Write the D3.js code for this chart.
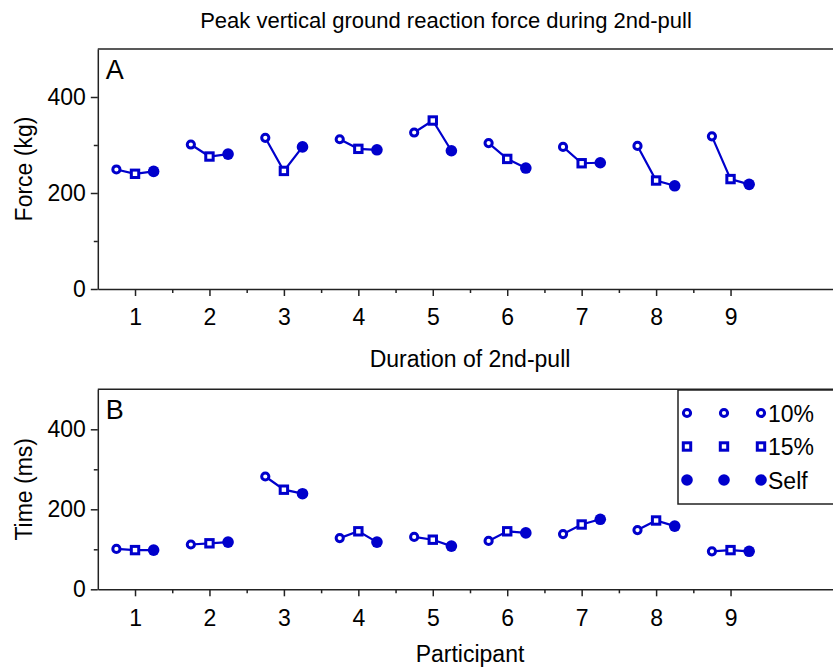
<!DOCTYPE html>
<html>
<head>
<meta charset="utf-8">
<script src="https://cdn.jsdelivr.net/npm/d3@7"></script>
<style>
  body { margin: 0; background: #fff; }
  text { font-family: "Liberation Sans", Arial, sans-serif; fill: #000; }
  .axis path, .axis line { stroke: #222; stroke-width: 1.5; }
  .axis text { font-size: 23px; }
</style>
</head>
<body>
<script>
const participants = [1, 2, 3, 4, 5, 6, 7, 8, 9];
const conditions = ["10%", "15%", "Self"];

// peak force (kg) per participant
const forceTen     = [249, 301, 315, 312, 326, 304, 296, 298, 318];
const forceFifteen = [240, 276, 246, 292, 351, 271, 262, 226, 229];
const forceSelf    = [245, 281, 296, 290, 288, 252, 263, 215, 218];

// 2nd-pull duration (ms) per participant
const timeTen     = [101, 112, 282, 128, 131, 121, 138, 148, 95];
const timeFifteen = [98, 115, 249, 145, 124, 145, 162, 172, 98];
const timeSelf    = [98, 118, 239, 118, 108, 141, 175, 158, 95];

const yMajor = [0, 200, 400];
const yMinor = [100, 300];
const xMinor = [1.5, 2.5, 3.5, 4.5, 5.5, 6.5, 7.5, 8.5];

const width = 833, height = 671;
const blue = "#0000cc";

const svg = d3.select("body").append("svg")
  .attr("width", width)
  .attr("height", height);

const xScale = d3.scaleLinear()
  .domain([0.5, 10.5])
  .range([97.8, 842.2]);

// small shift so the three conditions sit side by side
const shift = d3.scalePoint().domain(conditions).range([-0.25, 0.25]);

svg.append("text")
  .attr("x", 446)
  .attr("y", 28)
  .attr("text-anchor", "middle")
  .style("font-size", "22px")
  .text("Peak vertical ground reaction force during 2nd-pull");

const drawMarker = (g, x, y, cond) => {
  if (cond === "10%") {
    g.append("circle").attr("cx", x).attr("cy", y).attr("r", 3.6)
      .attr("fill", "#fff").attr("stroke", blue).attr("stroke-width", 3);
  } else if (cond === "15%") {
    g.append("rect").attr("x", x - 3.7).attr("y", y - 3.7)
      .attr("width", 7.4).attr("height", 7.4)
      .attr("fill", "#fff").attr("stroke", blue).attr("stroke-width", 3);
  } else {
    g.append("circle").attr("cx", x).attr("cy", y).attr("r", 5.8)
      .attr("fill", blue);
  }
};

const drawPanel = (series, top, bottom, letter, yLabel, xLabel, xLabelY) => {
  const yScale = d3.scaleLinear()
    .domain([0, 500])
    .range([bottom, top]);

  const g = svg.append("g");

  // minor ticks
  g.append("g")
    .attr("class", "axis")
    .attr("transform", `translate(${xScale(0.5)},0)`)
    .call(d3.axisLeft(yScale).tickValues(yMinor).tickSize(4).tickFormat("").tickSizeOuter(0))
    .select(".domain").remove();

  g.append("g")
    .attr("class", "axis")
    .attr("transform", `translate(0,${bottom})`)
    .call(d3.axisBottom(xScale).tickValues(xMinor).tickSize(4).tickFormat("").tickSizeOuter(0))
    .select(".domain").remove();

  g.append("g")
    .attr("class", "axis")
    .attr("transform", `translate(${xScale(0.5)},0)`)
    .call(d3.axisLeft(yScale).tickValues(yMajor).tickSize(7).tickPadding(5).tickSizeOuter(0));

  g.append("g")
    .attr("class", "axis")
    .attr("transform", `translate(0,${bottom})`)
    .call(d3.axisBottom(xScale).tickValues(participants).tickFormat(d3.format("d"))
      .tickSize(7).tickPadding(13).tickSizeOuter(0));

  // top frame line
  g.append("line")
    .attr("x1", xScale(0.5)).attr("x2", xScale(10.5))
    .attr("y1", yScale(500)).attr("y2", yScale(500))
    .attr("stroke", "#222").attr("stroke-width", 1.5);

  g.append("text")
    .attr("x", xScale(0.5) + 8)
    .attr("y", yScale(500) + 30)
    .style("font-size", "27px")
    .text(letter);

  g.append("text")
    .attr("transform", `translate(32,${(top + bottom) / 2}) rotate(-90)`)
    .attr("text-anchor", "middle")
    .style("font-size", "23px")
    .text(yLabel);

  g.append("text")
    .attr("x", 470)
    .attr("y", xLabelY)
    .attr("text-anchor", "middle")
    .style("font-size", "23px")
    .text(xLabel);

  const line = d3.line()
    .x(d => xScale(d.p + shift(d.c)))
    .y(d => yScale(d.v));

  participants.forEach((p, i) => {
    const pts = conditions.map((c, j) => ({ p: p, c: c, v: series[j][i] }));

    g.append("path")
      .attr("d", line(pts))
      .attr("fill", "none")
      .attr("stroke", blue)
      .attr("stroke-width", 2.2);

    pts.forEach(d => drawMarker(g, xScale(d.p + shift(d.c)), yScale(d.v), d.c));
  });
};

drawPanel([forceTen, forceFifteen, forceSelf], 49, 289, "A", "Force (kg)",
  "Duration of 2nd-pull", 367);
drawPanel([timeTen, timeFifteen, timeSelf], 389.3, 589.3, "B", "Time (ms)",
  "Participant", 662);

// legend
const legend = svg.append("g");
legend.append("rect")
  .attr("x", 678).attr("y", 390)
  .attr("width", 170).attr("height", 114)
  .attr("fill", "#fff").attr("stroke", "#222").attr("stroke-width", 1.5);

const legendX = d3.scalePoint().domain([0, 1, 2]).range([687, 761]);
const legendY = d3.scalePoint().domain(conditions).range([413, 480]);

conditions.forEach(c => {
  [0, 1, 2].forEach(k => drawMarker(legend, legendX(k), legendY(c), c));
  legend.append("text")
    .attr("x", 768)
    .attr("y", legendY(c) + 8.5)
    .style("font-size", "23px")
    .text(c);
});
</script>
</body>
</html>
